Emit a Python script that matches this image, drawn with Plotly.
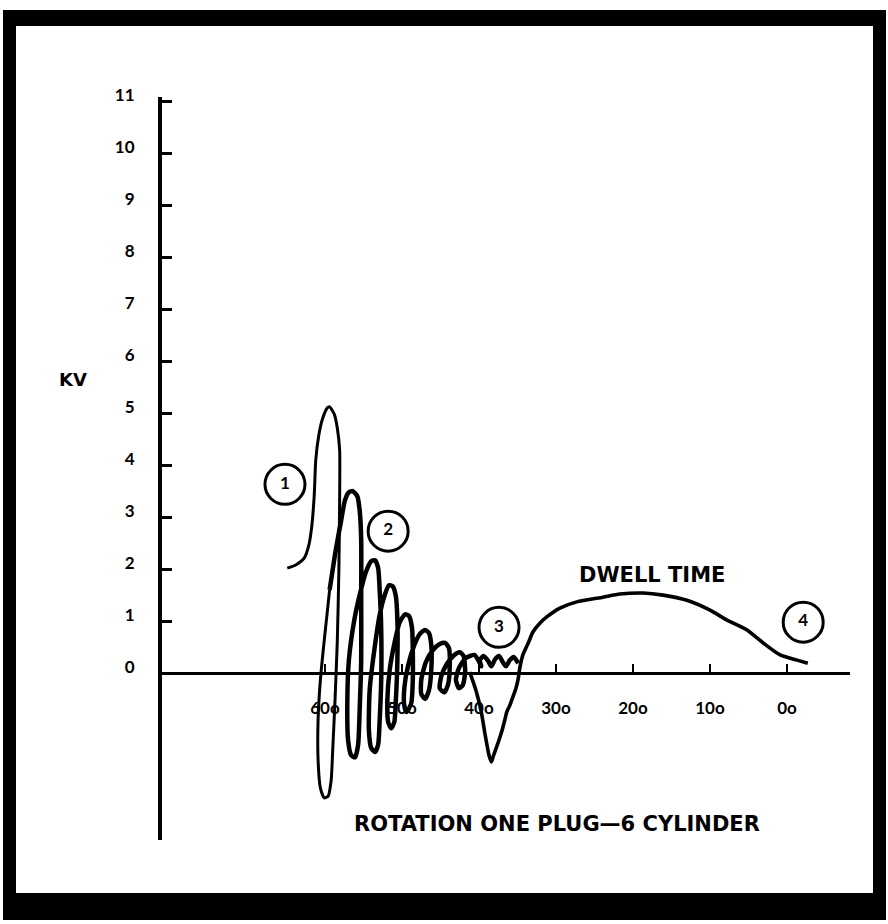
import plotly.graph_objects as go

# ---------------- data ----------------
# Main firing / oscillation trace: degrees of rotation, kV
spark_deg = [64.9, 63.8, 62.7, 62.1, 61.7, 61.4, 61.2, 60.8, 60.3, 59.7, 59.4, 58.8, 58.4, 58.1, 58.1,
             58.2, 58.4, 58.7, 59.0, 59.2, 59.6, 60.1, 60.6, 60.9, 60.9, 60.6, 60.1, 59.4, 58.6, 57.9,
             57.4, 56.9, 56.4, 55.8, 55.5, 55.3, 55.3, 55.3, 55.5, 55.7, 56.1, 56.6, 57.0, 57.1, 56.9,
             56.2, 55.5, 54.7, 54.0, 53.5, 53.1, 52.9, 52.7, 52.7, 52.9, 53.1, 53.5, 54.0, 54.3, 54.2,
             53.6, 52.9, 52.2, 51.7, 51.2, 50.8, 50.6, 50.6, 50.8, 51.0, 51.4, 51.8, 51.9, 51.6, 50.9,
             50.3, 49.6, 49.1, 48.7, 48.6, 48.6, 48.8, 49.4, 49.7, 49.7, 49.2, 48.4, 47.7, 47.0, 46.5,
             46.2, 46.2, 46.5, 47.0, 47.5, 47.5, 46.9, 46.0, 45.1, 44.4, 43.9, 43.8, 44.0, 44.5, 45.1,
             44.9, 44.2, 43.2, 42.5, 42.0, 41.8, 42.1, 42.6, 43.0, 42.6, 41.7, 40.6, 40.1, 39.7, 39.9,
             39.4, 38.8, 38.4, 37.9, 37.4, 36.9, 36.5, 36.0, 35.5, 34.9]
spark_kv = [2.02, 2.08, 2.21, 2.46, 2.85, 3.42, 4.10, 4.58, 4.90, 5.10, 5.12, 4.98, 4.71, 4.29, 3.33,
            1.98, 0.63, -0.52, -1.48, -2.06, -2.37, -2.40, -2.21, -1.67, -0.90, -0.13, 0.63, 1.60, 2.37, 2.94,
            3.33, 3.48, 3.50, 3.40, 3.13, 2.56, 1.40, 0.25, -0.71, -1.38, -1.62, -1.58, -1.29, -0.52, 0.25,
            1.02, 1.50, 1.94, 2.15, 2.17, 2.02, 1.60, 0.83, -0.13, -0.90, -1.38, -1.52, -1.44, -1.10, -0.33,
            0.44, 1.12, 1.52, 1.69, 1.67, 1.48, 1.02, 0.25, -0.52, -0.94, -1.06, -0.94, -0.52, 0.06, 0.63,
            0.98, 1.13, 1.10, 0.87, 0.44, -0.13, -0.58, -0.75, -0.63, -0.29, 0.15, 0.54, 0.75, 0.83, 0.77,
            0.54, 0.06, -0.33, -0.50, -0.40, -0.13, 0.21, 0.44, 0.56, 0.58, 0.48, 0.15, -0.21, -0.37, -0.29,
            -0.06, 0.17, 0.35, 0.40, 0.33, 0.02, -0.23, -0.29, -0.13, 0.10, 0.29, 0.35, 0.25, 0.13, 0.25,
            0.33, 0.23, 0.13, 0.27, 0.33, 0.21, 0.13, 0.25, 0.31, 0.19]

# Points-close drop and dwell section
dwell_deg = [41.2, 40.4, 39.7, 39.2, 38.7, 38.4, 38.1, 37.5, 37.0, 36.6, 36.4, 36.0, 35.6, 35.2, 34.9,
             34.7, 34.3, 33.6, 33.0, 32.1, 31.2, 29.5, 27.3, 23.9, 21.7, 18.7, 16.1, 13.0, 10.0, 7.8,
             5.2, 3.1, 0.9, -1.3, -2.7]
dwell_kv = [0.02, -0.33, -0.75, -1.19, -1.58, -1.71, -1.58, -1.33, -1.10, -0.87, -0.75, -0.62, -0.46, -0.29, -0.10,
            0.10, 0.35, 0.58, 0.79, 0.96, 1.08, 1.25, 1.37, 1.46, 1.52, 1.54, 1.50, 1.40, 1.21, 1.02,
            0.83, 0.58, 0.35, 0.25, 0.19]

# Numbered call-outs
callout_labels = ["1", "2", "3", "4"]
callout_deg = [65.2, 51.8, 37.4, -2.1]
callout_kv = [3.63, 2.73, 0.88, 0.98]

# Axes
kv_ticks = list(range(0, 12))
deg_ticks = [60, 50, 40, 30, 20, 10, 0]
deg_tick_text = ["60o", "50o", "40o", "30o", "20o", "10o", "0o"]

# ---------------- layout geometry ----------------
W, H = 888, 924
L, R, T, B = 162, 38, 97, 84          # plot area: x 162..850, y 97..840
PW, PH = W - L - R, H - T - B
X_RANGE = [81.17, -8.18]
Y_RANGE = [-3.21, 11.08]

def px_x(p):
    return (p - L) / PW

def px_y(p):
    return (H - B - p) / PH

NUM_FONT = "Lato"
TXT_FONT = "DejaVu Sans"
SPLIT = 28   # the first (firing) loop is drawn with a thinner pen
fig = go.Figure()

fig.add_trace(go.Scatter(x=spark_deg[:SPLIT], y=spark_kv[:SPLIT], mode="lines",
                         line=dict(color="black", width=3, shape="spline", smoothing=0.6),
                         hoverinfo="skip", showlegend=False))
fig.add_trace(go.Scatter(x=spark_deg[SPLIT - 1:], y=spark_kv[SPLIT - 1:], mode="lines",
                         line=dict(color="black", width=4.5, shape="spline", smoothing=0.6),
                         hoverinfo="skip", showlegend=False))
fig.add_trace(go.Scatter(x=dwell_deg, y=dwell_kv, mode="lines",
                         line=dict(color="black", width=3.6, shape="spline", smoothing=0.6),
                         hoverinfo="skip", showlegend=False))
fig.add_trace(go.Scatter(x=callout_deg, y=callout_kv, mode="markers+text",
                         text=callout_labels, textposition="middle center",
                         textfont=dict(family=NUM_FONT, size=17, color="black", weight="bold"),
                         marker=dict(symbol="circle-open", size=40, color="black",
                                     line=dict(width=3, color="black")),
                         hoverinfo="skip", showlegend=False))

zero_pos = (0 - Y_RANGE[0]) / (Y_RANGE[1] - Y_RANGE[0])

fig.update_layout(
    width=W, height=H,
    margin=dict(l=L, r=R, t=T, b=B, pad=0),
    paper_bgcolor="white", plot_bgcolor="white",
    xaxis=dict(range=X_RANGE, showgrid=False, zeroline=False, showline=False,
               anchor="free", position=zero_pos,
               tickvals=deg_ticks, ticktext=deg_tick_text,
               ticks="inside", ticklen=9, tickwidth=2, tickcolor="black",
               ticklabelstandoff=23,
               tickfont=dict(family=NUM_FONT, size=17, color="black", weight="bold")),
    yaxis=dict(range=Y_RANGE, showgrid=False,
               zeroline=True, zerolinecolor="black", zerolinewidth=3,
               showline=True, linecolor="black", linewidth=4,
               tickvals=kv_ticks, ticks="inside", ticklen=10, tickwidth=3, tickcolor="black",
               ticklabelstandoff=20, ticklabelshift=-6,
               tickfont=dict(family=NUM_FONT, size=17, color="black", weight="bold")),
)

# frame
bands = [(3, 10, 16, 920), (873, 10, 886, 920), (3, 10, 886, 26), (3, 893, 886, 920)]
for x0, y0, x1, y1 in bands:
    fig.add_shape(type="rect", xref="paper", yref="paper",
                  x0=px_x(x0), x1=px_x(x1), y0=px_y(y0), y1=px_y(y1),
                  fillcolor="black", line=dict(width=0), layer="above")

fig.add_annotation(x=px_x(73), y=px_y(380), xref="paper", yref="paper", text="KV",
                   xanchor="center", yanchor="middle",
                   showarrow=False, font=dict(family=TXT_FONT, size=18, color="black", weight="bold"))
fig.add_annotation(x=17.5, y=1.88, xref="x", yref="y", text="DWELL TIME",
                   xanchor="center", yanchor="middle",
                   showarrow=False, font=dict(family=TXT_FONT, size=21, color="black", weight="bold"))
fig.add_annotation(x=px_x(557), y=px_y(824), xref="paper", yref="paper",
                   text="ROTATION ONE PLUG—6 CYLINDER",
                   xanchor="center", yanchor="middle",
                   showarrow=False, font=dict(family=TXT_FONT, size=21, color="black", weight="bold"))

fig.write_html("out.html", config={"displayModeBar": False},
               post_script="document.body.style.margin='0px';")
